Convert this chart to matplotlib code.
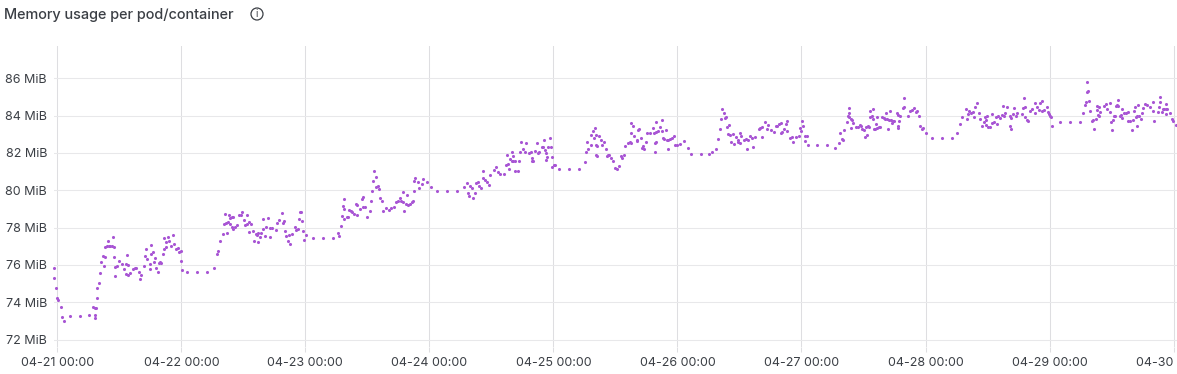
import matplotlib as mpl
mpl.use('Agg')
import matplotlib.pyplot as plt
from matplotlib.patches import Circle
from matplotlib.transforms import IdentityTransform

mpl.rcParams['font.family'] = ['Inter', 'DejaVu Sans']

# hours since 04-21 00:00 and memory in MiB
hours_a = [-0.65, -0.65, -0.32, -0.13, 0.19, 0.77, 0.9, 1.2, 2.5, 4.45, 6.2, 6.84, 7.3, 7.55, 7.3, 7.35, 7.6, 7.74, 8.06, 8.32,
           8.5, 8.77, 9.16, 9.1, 9.29, 9.6, 9.87, 9.93, 10.25, 10.6, 10.84, 10.97, 11.03, 11.1, 11.22, 11.55, 11.87, 12.5, 12.84, 13.3,
           13.55, 13.6, 13.2, 13.67, 14.1, 14.6, 14.96, 15.3, 15.8, 16, 16.25, 16.8, 16.96, 17.1, 17.35, 17.87, 18, 18.2, 18.2, 18.5,
           18.77, 18.96, 19.1, 19.5, 19.6, 19.93, 20.1, 20.4, 20.64, 20.7, 20.96, 21.03, 21.5, 21.6, 21.93, 22.4, 22.58, 22.9, 23.3, 23.54,
           23.87, 24, 24.2, 25.1, 27.03, 28.96, 30.38, 30.83, 31.15, 31.54, 32.12, 32.3, 32.38, 32.64, 33.02, 32.83, 33.15, 33.35, 33.41, 33.73,
           33.86, 34.05, 33.93, 34.3, 34.76, 35.1, 35.5, 35.8, 36.05, 36.38, 36.7, 36.76, 37.02, 37.15, 37.54, 37.93, 38.1, 38.38, 38.57, 38.9,
           38.9, 39.2, 39.47, 39.86, 39.86, 40.25, 40.3, 40.83, 41.2, 41.2, 41.6, 42.44, 42.38, 42.83, 43.54, 43.6, 43.92, 44.05, 44.2, 44.57,
           44.9, 45.1, 45.4]
mib_a = [75.81, 75.28, 74.74, 74.2, 74.12, 73.74, 73.2, 73.0, 73.24, 73.24, 73.31, 73.72, 73.69, 73.69, 73.33, 73.15, 74.22, 74.76, 75.05, 75.58,
         76.14, 76.48, 76.42, 75.96, 76.94, 77.01, 77.26, 77.03, 77.03, 77.01, 77.49, 76.96, 76.42, 75.89, 75.39, 75.92, 76.22, 76.06, 75.78, 76.05,
         76.55, 75.99, 75.51, 75.47, 75.58, 75.8, 75.81, 75.81, 75.62, 75.23, 75.44, 75.96, 76.48, 76.85, 76.33, 75.8, 76.03, 76.57, 77.08, 76.67,
         76.15, 76.37, 75.85, 75.64, 76.12, 76.15, 76.08, 76.58, 76.85, 77.44, 77.21, 76.94, 77.47, 77.3, 77.01, 77.58, 77.14, 76.83, 76.92, 76.67,
         76.76, 76.22, 75.7, 75.6, 75.6, 75.6, 75.81, 76.57, 76.74, 77.26, 77.67, 78.2, 78.74, 78.22, 78.3, 77.73, 78.66, 78.2, 78.5, 78.55,
         78.05, 78.57, 77.93, 78.05, 78.14, 78.67, 78.67, 78.83, 78.39, 78.16, 78.17, 78.69, 78.3, 77.76, 78.2, 77.83, 77.28, 77.65, 77.6, 77.69,
         77.21, 77.51, 77.73, 78.48, 77.94, 77.55, 78.05, 78.53, 77.96, 77.48, 77.98, 78.26, 77.85, 78.39, 78.76, 78.23, 78.33, 77.8, 77.57, 77.26,
         77.6, 77.12, 77.66]

hours_b = [45.93, 46.2, 46.5, 46.76, 46.96, 47.09, 47.42, 47.61, 47.8, 48.06, 49.42, 51.35, 53.29, 54.38, 54.58, 54.83, 55.09, 55.35, 55.54, 55.54,
           55.54, 56, 56.3, 56.5, 56.83, 57.03, 57.48, 57.87, 58.06, 58.06, 58.64, 59.03, 59.22, 59.22, 59.54, 59.87, 60.57, 60.7, 60.96, 61.15,
           61.35, 61.6, 61.74, 62.06, 62.25, 62.51, 62.9, 63.09, 63.6, 64.12, 64.5, 65.09, 65.48, 66, 66.25, 66.5, 66.83, 66.83, 67.02, 67.48,
           67.73, 67.93, 68.25, 68.57, 68.9, 68.96, 69.03, 69.22, 69.73, 70.06, 70.51, 70.77, 71.47, 72.38, 73.54, 75.47, 77.41, 78.7, 79.34, 79.54,
           79.73, 79.92, 80.31, 80.5, 80.89, 81.09, 81.34, 81.54, 82.05, 82.31, 82.44, 82.83, 83.21, 83.6, 83.79, 84.57, 84.83, 85.28, 85.73, 86.37,
           86.83, 87.27, 87.08, 87.47, 87.66, 87.92, 88.05, 88.25, 88.25, 88.57, 88.57, 89.15, 89.41, 89.6, 89.79, 90.12, 90.57, 90.76, 91.34, 91.73,
           91.86, 91.93, 92.12, 92.43, 92.89, 92.95, 93.28, 93.86, 94.05, 94.24, 94.37, 94.63, 94.5, 94.82, 95.02, 95.4, 95.53, 95.66, 95.79, 96.05,
           96.3, 97.14, 99.08, 101.01, 102.11, 102.3, 102.5, 102.76]
mib_b = [78.05, 77.87, 77.92, 78.44, 78.85, 78.85, 78.33, 77.8, 77.33, 77.6, 77.42, 77.42, 77.42, 77.69, 77.57, 78.1, 78.64, 79.16, 79.0, 79.53,
         78.46, 78.58, 78.58, 78.92, 78.88, 78.81, 78.72, 79.24, 79.23, 78.69, 78.98, 79.51, 79.62, 79.08, 79.08, 78.57, 78.87, 79.4, 79.94, 80.48,
         81.01, 80.69, 80.16, 80.25, 80.05, 79.58, 79.42, 78.88, 79.03, 78.94, 79.03, 79.08, 79.39, 79.44, 79.57, 79.44, 79.91, 79.39, 78.88, 79.28,
         79.72, 79.19, 79.26, 79.35, 79.42, 79.94, 80.48, 80.68, 80.44, 80.14, 80.35, 80.58, 80.46, 80.16, 79.94, 79.94, 79.94, 80.17, 80.4, 79.87,
         79.67, 80.21, 80.12, 79.57, 79.83, 80.37, 80.46, 80.25, 80.12, 80.64, 81.05, 80.57, 80.44, 80.3, 80.83, 81.08, 81.23, 80.96, 80.85, 80.89,
         81.35, 81.39, 81.91, 81.16, 81.69, 81.55, 82.07, 81.85, 81.55, 81.01, 81.55, 81.03, 81.55, 82.05, 82.59, 82.23, 82.05, 82.51, 82.01, 82.03,
         81.73, 81.58, 81.58, 82.12, 82.53, 81.98, 82.03, 82.34, 82.32, 82.7, 82.16, 81.98, 81.62, 81.76, 82.3, 82.78, 82.34, 81.8, 81.27, 81.37,
         81.35, 81.12, 81.12, 81.12, 81.5, 82.03, 82.57, 82.23]

hours_c = [103.2, 103.33, 103.72, 104.04, 103.91, 104.17, 104.17, 104.49, 104.24, 104.49, 104.88, 105.14, 105.4, 105.78, 106.24, 106.3, 106.62, 106.82, 107.2, 107.59,
           107.91, 108.36, 108.62, 109.01, 109.33, 109.72, 109.78, 110.49, 110.82, 111.07, 111.07, 111.07, 111.33, 111.65, 112.1, 112.23, 112.43, 112.62, 113.01, 113.2,
           113.4, 113.52, 113.98, 114.17, 114.62, 115.2, 115.46, 115.59, 115.78, 115.72, 115.91, 115.85, 116.23, 116.68, 116.94, 117, 117.14, 117.46, 117.72, 117.91,
           118.23, 118.23, 118.56, 118.94, 119.33, 119.46, 119.85, 120.49, 121.2, 121.97, 122.68, 124.62, 126.04, 126.62, 127.52, 127.84, 128.29, 128.49, 128.68, 128.94,
           129.13, 129.46, 129.58, 129.71, 130.04, 130.23, 130.36, 130.68, 131, 131.39, 131.65, 131.78, 132.04, 132.16, 132.29, 132.81, 133.26, 133.52, 133.71, 134.1,
           134.49, 134.68, 135.07, 135.71, 136.03, 136.42, 136.29, 137, 137.32, 137.45, 138.1, 138.74, 139.07, 139.32, 139.71, 140.1, 139.97, 140.23, 140.68, 141.07,
           141.13, 141.26, 141.71, 142.1, 142.42, 142.94, 143.58, 143.65, 143.97, 144.16, 144.35, 144.61, 144.74, 145.06, 145.32, 147, 148.93, 150.48, 151.19, 151.51,
           151.9, 152.03, 152.29, 152.74, 153.13, 153.26, 153.0, 153.26, 153.51, 153.71, 153.51, 153.97, 154.48, 154.87, 155.26, 155.51, 155.77, 156.03, 156.22, 156.48,
           156.74, 156.87, 157.13, 157.32, 157.32, 157.58, 157.77, 157.9, 157.96, 158.29, 158.42, 158.55, 159]
mib_c = [82.43, 82.96, 83.16, 83.35, 82.82, 82.96, 82.41, 82.37, 81.87, 81.84, 82.91, 82.69, 82.41, 82.6, 82.21, 81.84, 81.89, 81.91, 81.71, 81.59,
         81.19, 81.12, 81.32, 81.82, 81.73, 81.91, 82.35, 82.51, 82.57, 82.53, 83.07, 83.62, 83.46, 82.93, 82.64, 82.69, 83.25, 83.28, 82.82, 82.25,
         82.37, 82.19, 82.57, 83.09, 83.07, 83.35, 83.07, 82.55, 82.6, 82.05, 83.68, 83.12, 83.19, 83.41, 83.75, 83.19, 82.78, 82.76, 83.23, 82.69,
         82.19, 82.69, 82.73, 82.82, 82.89, 82.44, 82.44, 82.5, 82.66, 82.28, 81.93, 81.93, 81.93, 82.03, 82.21, 82.75, 83.27, 83.8, 84.34, 84.14,
         83.89, 83.93, 83.39, 83.02, 83.52, 82.98, 82.57, 83.0, 82.46, 82.85, 82.59, 82.69, 82.51, 83.07, 82.93, 82.68, 82.75, 82.23, 82.69, 82.89,
         82.78, 82.34, 82.87, 83.28, 83.34, 83.37, 82.85, 83.68, 83.28, 83.5, 83.25, 83.12, 83.43, 83.43, 83.53, 83.62, 83.09, 83.14, 83.28, 83.55,
         83.69, 83.16, 82.78, 82.87, 82.59, 82.84, 82.89, 83.32, 83.19, 83.71, 83.46, 82.93, 82.62, 82.93, 82.41, 82.41, 82.41, 82.27, 82.51, 83.05,
         82.75, 82.71, 83.23, 83.64, 84.12, 84.43, 83.98, 83.91, 83.84, 83.78, 83.35, 83.6, 83.39, 83.41, 83.48, 83.43, 83.28, 83.25, 82.85, 83.37,
         82.94, 83.46, 83.41, 83.91, 84.25, 83.98, 84.37, 83.82, 83.27, 83.28, 83.55, 83.35, 83.37]

hours_d = [158.63, 159.28, 159.66, 159.92, 160.18, 160.37, 160.57, 160.82, 160.95, 161.21, 161.27, 161.6, 161.73, 161.92, 162.5, 162.69, 162.76, 162.82, 162.76, 163.14,
           163.73, 163.85, 163.92, 164.56, 165.08, 165.34, 165.79, 166.24, 166.43, 166.82, 167.02, 167.27, 167.6, 168.18, 169.27, 171.21, 173.14, 174.17, 174.63, 175.08,
           175.79, 176.11, 176.17, 176.43, 176.82, 177.27, 177.4, 177.59, 177.98, 178.3, 178.62, 178.88, 179.27, 179.53, 179.66, 179.92, 179.79, 180.11, 180.43, 180.95,
           180.95, 181.21, 181.59, 181.79, 182.11, 182.37, 182.82, 183.08, 183.2, 183.33, 183.85, 184.3, 184.5, 184.43, 184.5, 184.88, 185.2, 185.59, 185.79, 186.69,
           186.95, 187.14, 187.2, 187.33, 187.72, 187.91, 188.17, 188.69, 189.27, 189.27, 189.59, 190.04, 190.24, 190.49, 190.62, 191.01, 191.46, 191.65, 191.85, 192.04,
           192.23, 192.56, 194.11, 196.04, 197.98, 198.49, 198.94, 199.14, 199.33, 199.46, 199.33, 199.65, 199.85, 200.17, 200.43, 200.68, 200.94, 201.14, 201.27, 201.33,
           201.59, 201.52, 201.85, 202.62, 202.88, 203.14, 203.65, 203.78, 203.91, 204.17, 204.3, 204.49, 204.75, 204.94, 205.07, 205.33, 205.33, 205.59, 205.78, 205.97,
           206.1, 206.42, 206.75, 207.13, 207.26, 207.65, 208.04, 208.17, 208.42, 208.62, 208.75, 209, 208.94, 209.2, 209.39, 209.65, 209.84, 210.17, 210.49, 210.88,
           211.46, 211.97, 212.1, 212.29, 212.94, 213.26, 213.46, 213.46, 213.78, 213.91, 214.23, 214.49, 214.62, 214.62, 214.81, 215.33, 215.71, 215.91, 216.42]
mib_d = [83.95, 83.37, 83.91, 83.87, 83.8, 84.12, 83.8, 83.27, 83.77, 84.25, 83.75, 83.62, 83.69, 83.71, 84.12, 84.02, 83.46, 83.69, 83.35, 84,
         84.41, 84.46, 84.94, 83.98, 84.23, 84.3, 84.39, 84.18, 84.25, 84, 83.46, 83.27, 83.32, 83.07, 82.78, 82.78, 82.78, 83.07, 83.53, 83.95,
         84.37, 83.84, 84.07, 84.27, 84.14, 84.19, 83.91, 84.44, 84.66, 84.12, 83.82, 83.44, 83.64, 83.95, 83.75, 83.96, 83.5, 83.41, 83.39, 83.59,
         84.1, 83.68, 83.93, 83.55, 83.96, 83.86, 84.03, 84.52, 83.98, 84.14, 84.46, 83.98, 83.86, 83.43, 83.3, 84.09, 84.43, 84, 84.14, 84.1,
         84.41, 84.94, 84.46, 83.95, 83.75, 83.69, 84.25, 84.37, 84.69, 84.16, 84.46, 84.3, 84.66, 84.77, 84.23, 84.28, 84.48, 84.2, 84.07, 84,
         83.95, 83.46, 83.64, 83.64, 83.64, 84.12, 84.59, 84.73, 85.27, 85.3, 85.8, 84.8, 84.27, 83.73, 83.75, 83.3, 83.8, 84.3, 84.52, 84.02,
         84.48, 83.98, 84.21, 84.5, 84.61, 84.37, 84.68, 84.21, 83.68, 83.25, 83.78, 84, 84, 84.52, 84.59, 84.82, 84.52, 83.98, 84.03, 83.86,
         84.37, 84.12, 84.16, 84.18, 83.71, 83.69, 83.23, 83.75, 84.27, 84.48, 83.95, 83.46, 83.98, 84.55, 83.98, 83.8, 84.14, 84.39, 84.61, 84.55,
         84.46, 84.75, 84.23, 83.71, 84.18, 84.48, 85.02, 84.71, 84.18, 84.37, 84.34, 84.34, 84.64, 84.1, 84.34, 84.14, 83.82, 83.69, 83.52]

day_hours = [0, 24, 48, 72, 96, 120, 144, 168, 192, 216]
day_labels = ['04-21 00:00', '04-22 00:00', '04-23 00:00', '04-24 00:00', '04-25 00:00',
              '04-26 00:00', '04-27 00:00', '04-28 00:00', '04-29 00:00', '04-30 00:00']
mib_ticks = [72, 74, 76, 78, 80, 82, 84, 86]
mib_labels = ['72 MiB', '74 MiB', '76 MiB', '78 MiB', '80 MiB', '82 MiB', '84 MiB', '86 MiB']

W, H = 1177, 374
text_color = '#3b3f45'
grid_color = '#e8e8ea'
vgrid_color = '#dedee1'

fig = plt.figure(figsize=(W / 100, H / 100), dpi=100)
ax = fig.add_axes([54 / W, 1 - 347 / H, (W - 54) / W, (347 - 46) / H])

for hrs, vals in [(hours_a, mib_a), (hours_b, mib_b), (hours_c, mib_c), (hours_d, mib_d)]:
    ax.scatter(hrs, vals, s=5, color='#a855d4', linewidths=0, zorder=3, clip_on=False)

ax.set_xlim(-0.64, 216.66)
ax.set_ylim(72 + (339.5 - 347) / 18.66, 72 + (339.5 - 46) / 18.66)
ax.set_xticks(day_hours, day_labels)
ax.set_yticks(mib_ticks, mib_labels)
ax.grid(True, axis='y', color=grid_color, linewidth=0.75)
ax.grid(True, axis='x', color=vgrid_color, linewidth=0.75)
ax.set_axisbelow(True)
for s in ax.spines.values():
    s.set_visible(False)
ax.tick_params(axis='x', length=3.5, width=0.75, color=vgrid_color, labelsize=9, labelcolor=text_color, pad=4)
ax.tick_params(axis='y', length=0, labelsize=9, labelcolor=text_color, pad=5)

fig.text(4 / W, 1 - 15 / H, 'Memory usage per pod/container', fontsize=10.4, color=text_color,
         fontweight='medium', va='center', ha='left')

# info icon next to the title
fig.add_artist(Circle((257, H - 14), 6, transform=IdentityTransform(), fill=False,
                      edgecolor=text_color, linewidth=0.9))
fig.text(257 / W, 1 - 14 / H, 'i', fontsize=7, color=text_color, ha='center', va='center')

fig.savefig('out.png', dpi=100)
